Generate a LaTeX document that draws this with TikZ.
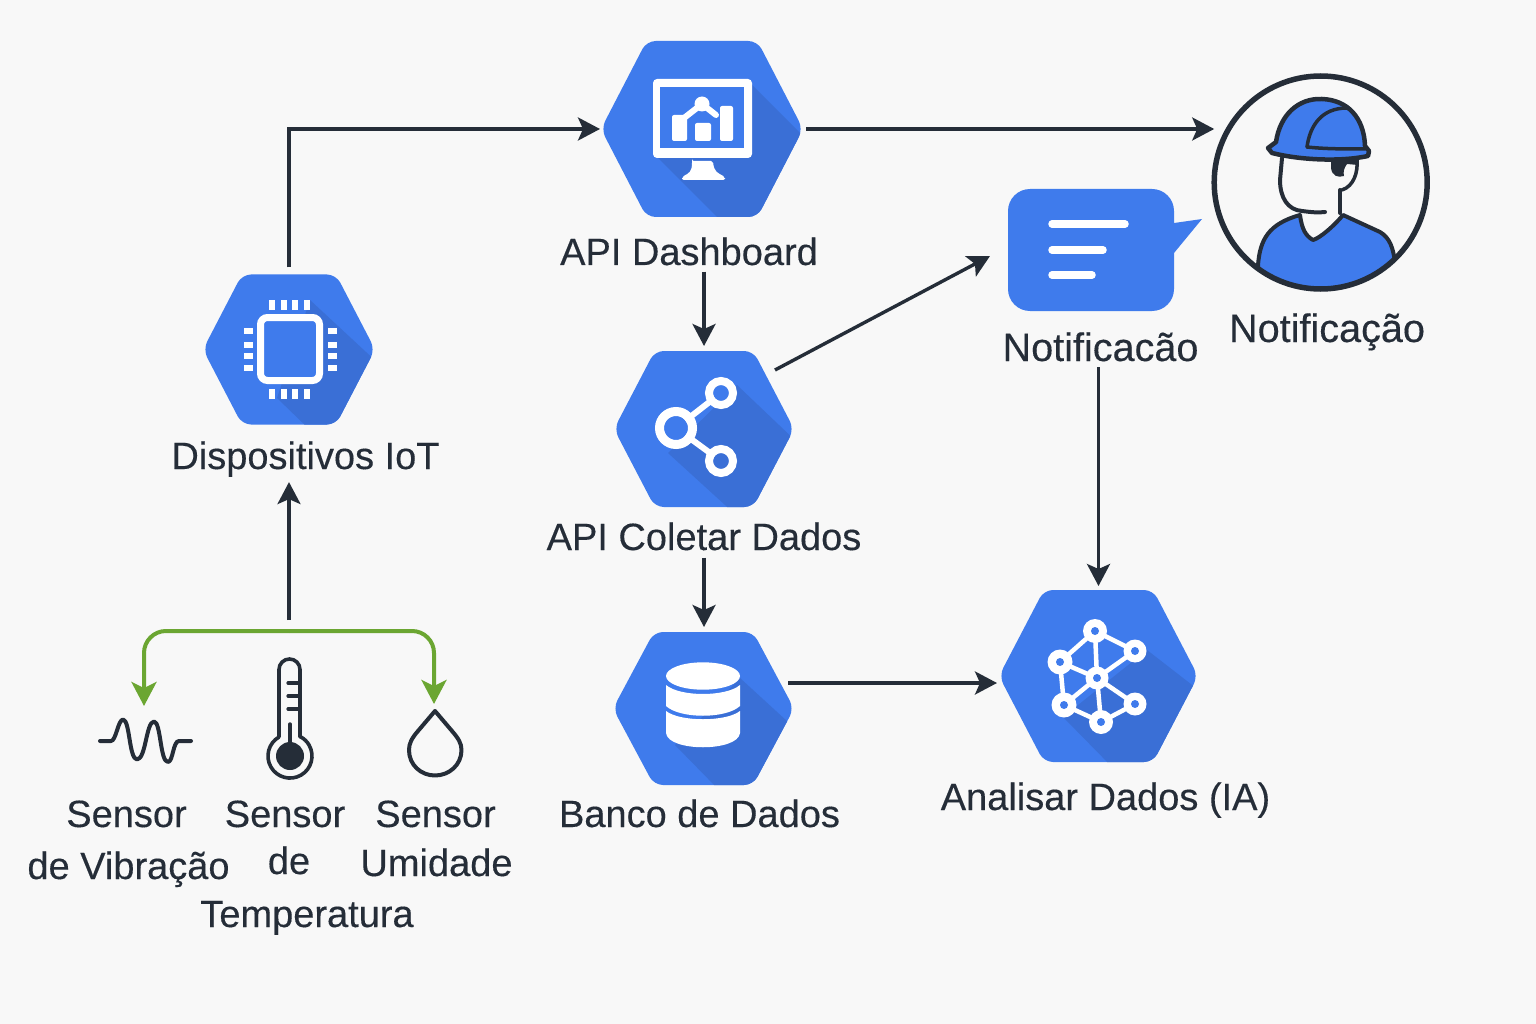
\documentclass[tikz,border=0pt]{standalone}
\usepackage{fontspec}
\setmainfont{Liberation Sans}[FakeBold=0.3]
\usetikzlibrary{arrows.meta,calc}
\definecolor{bgc}{HTML}{F8F8F8}
\definecolor{hexblue}{HTML}{3F7BEC}
\definecolor{hexshade}{HTML}{3A6FD6}
\definecolor{ink}{HTML}{252D38}
\definecolor{leaf}{HTML}{6BA632}
\tikzset{
  x=1pt,y=-1pt,
  lbl/.style={font=\fontsize{38}{38}\selectfont,text=ink,inner sep=0pt,anchor=base},
  lblbig/.style={font=\fontsize{39.6}{40}\selectfont,text=ink,inner sep=0pt,anchor=base},
  flow/.style={draw=ink,line width=3.4pt,-{Stealth[length=22pt,width=23pt,inset=5pt]}},
  greenflow/.style={draw=leaf,line width=4pt,rounded corners=22pt,-{Stealth[length=24pt,width=25pt,inset=6pt]}},
  whiteln/.style={draw=white,line cap=round,line join=round},
  inkln/.style={draw=ink,line cap=round,line join=round},
}
% name, cx, cy, half width, half height, shadow polygon
\newcommand{\hexa}[6]{%
  \begin{scope}
    \clip[rounded corners=9pt] (#2-#4-2,#3) -- (#2-0.56*#4,#3-#5) -- (#2+0.56*#4,#3-#5) -- (#2+#4+2,#3) -- (#2+0.56*#4,#3+#5) -- (#2-0.56*#4,#3+#5) -- cycle;
    \fill[hexblue] (#2-#4-5,#3-#5-5) rectangle (#2+#4+5,#3+#5+5);
    \fill[hexshade] #6;
  \end{scope}
  \node[minimum width=2*#4,minimum height=2*#5,inner sep=0pt,outer sep=0pt] (#1) at (#2,#3) {};
}
\begin{document}
\begin{tikzpicture}
\useasboundingbox (0,0) rectangle (1536,1024);
\fill[bgc] (0,0) rectangle (1536,1024);

% ---------- hexagons
\hexa{dash}{702}{129}{99}{88}{(752,85) -- (815,148) -- (815,230) -- (730,230) -- (655,155) -- cycle}
\hexa{iot}{289}{349.5}{84}{75}{(310,300) -- (380,365) -- (380,430) -- (310,430) -- (277,398) -- cycle}
\hexa{coll}{704}{429}{88}{78}{(737,385) -- (800,445) -- (800,515) -- (736,515) -- (668,453) -- cycle}
\hexa{db}{703.5}{708.5}{88.5}{76.5}{(740,678) -- (800,733) -- (800,790) -- (719,790) -- (675,745) -- cycle}
\hexa{ai}{1098.5}{676}{97.5}{86}{(1147,650) -- (1205,695) -- (1205,770) -- (1115,770) -- (1063,717) -- cycle}

% ---------- dashboard icon
\fill[white,rounded corners=4pt] (653,79) rectangle (752,158);
\fill[hexblue] (660,87) rectangle (744,148);
\fill[white,rounded corners=2pt] (672,115) rectangle (687,141);
\fill[white,rounded corners=2pt] (695,123) rectangle (711,141);
\fill[white,rounded corners=2pt] (720,106) rectangle (733,141);
\draw[whiteln,line width=6pt] (684,118) -- (702,104) -- (716,115);
\fill[white] (702,104) circle (7.5);
\fill[white,rounded corners=2pt] (692,161) -- (713,161) .. controls (714,172) and (718,173) .. (725,177) -- (725,180) -- (682,180) -- (682,177) .. controls (689,173) and (692,172) .. (692,161) -- cycle;

% ---------- chip icon
\draw[white,line width=7pt,rounded corners=7pt,fill=hexblue] (260.5,317.5) rectangle (319.5,380.5);
\foreach \a in {269,281,292,304}{
  \fill[white] (\a,300) rectangle (\a+6,310);
  \fill[white] (\a,389) rectangle (\a+6,399);
}
\foreach \a in {328,342,353,365}{
  \fill[white] (244,\a) rectangle (253,\a+6);
  \fill[white] (328,\a) rectangle (337,\a+6);
}

% ---------- share icon
\draw[whiteln,line width=6pt] (676,428) -- (721,393) (676,428) -- (721,461);
\fill[hexblue] (676,428) circle (12);
\fill[hexblue] (721,393) circle (8);
\fill[hexshade] (721,461) circle (8);
\draw[white,line width=9pt] (676,428) circle (16.5);
\draw[white,line width=8pt] (721,393) circle (12);
\draw[white,line width=8pt] (721,461) circle (12);

% ---------- database icon
\fill[white] (666,711) .. controls (680,722) and (726,722) .. (740,711) -- (740,733) .. controls (738,752) and (668,752) .. (666,733) -- cycle;
\fill[white] (666,685) .. controls (680,697) and (726,697) .. (740,685) -- (740,706) .. controls (726,719) and (680,719) .. (666,706) -- cycle;
\fill[white] (703,676) ellipse [x radius=37,y radius=13.7];

% ---------- AI icon
\coordinate (n1) at (1095,631);
\coordinate (n2) at (1135,651);
\coordinate (n3) at (1060,662);
\coordinate (n4) at (1097,678);
\coordinate (n5) at (1064,705);
\coordinate (n6) at (1135,704);
\coordinate (n7) at (1101,722);
\draw[white,line width=4.5pt] (n1)--(n2) (n1)--(n3) (n1)--(n4) (n3)--(n4) (n2)--(n4) (n3)--(n5) (n4)--(n5) (n4)--(n6) (n4)--(n7) (n5)--(n7) (n6)--(n7);
\foreach \p/\r in {n1/12,n2/11.5,n3/12.5,n4/11.5,n5/12.5,n6/11.5,n7/12}{
  \fill[white] (\p) circle (\r);
  \fill[hexblue] (\p) circle (4);
}

% ---------- bubble
\fill[hexblue,rounded corners=22pt] (1008,189) rectangle (1174,311);
\fill[hexblue] (1172,223) -- (1174,223) -- (1202,219) -- (1174,253) -- (1172,253) -- cycle;
\draw[whiteln,line width=7.5pt] (1052,224) -- (1125,224) (1052,250) -- (1103,250) (1052,275) -- (1092,275);
\node[minimum width=166pt,minimum height=122pt,inner sep=0pt,outer sep=0pt] (bubble) at (1091,250) {};

% ---------- worker
\begin{scope}
  \clip (1320.7,182.5) circle (106);
  \draw[inkln,line width=4pt,fill=hexblue] (1258,300) -- (1258,265) .. controls (1260,240) and (1268,224) .. (1300,215)
     .. controls (1302,230) and (1306,236) .. (1313,240) .. controls (1320,238) and (1334,226) .. (1343,215)
     -- (1380,232) .. controls (1390,238) and (1393,248) .. (1395,262) -- (1395,300) -- cycle;
\end{scope}
\draw[inkln,line width=4pt] (1282,158) -- (1280,180) .. controls (1280,198) and (1288,210) .. (1302,211) .. controls (1310,212) and (1318,213) .. (1325,212);
\draw[inkln,line width=4pt] (1340,190) -- (1340,213);
\draw[inkln,line width=3.5pt] (1357,160) .. controls (1358,172) and (1354,186) .. (1342,190);
\fill[ink] (1331,160) -- (1358,160) -- (1358,165) -- (1347,164) .. controls (1344,168) and (1343,172) .. (1344,176) .. controls (1338,178) and (1332,176) .. (1331,168) -- cycle;
\draw[inkln,line width=4.5pt,fill=hexblue] (1276,142) .. controls (1280,115) and (1298,98) .. (1322,99) .. controls (1348,100) and (1364,118) .. (1365,146) -- (1369,151) -- (1368,156) .. controls (1340,162) and (1300,160) .. (1272,153) -- (1268,148) -- cycle;
\draw[inkln,line width=3.5pt] (1307,147) .. controls (1310,125) and (1322,108) .. (1347,108);
\draw[inkln,line width=3.5pt] (1307,147) .. controls (1325,149) and (1345,149) .. (1365,149);
\node[circle,draw=ink,line width=5.5pt,minimum size=213pt,inner sep=0pt,outer sep=0pt] (worker) at (1320.7,182.5) {};

% ---------- sensors
\draw[inkln,line width=4pt] (100,741) -- (111,741) .. controls (116,741) and (118,720) .. (123,719.5)
  .. controls (130,720) and (129,759) .. (137,759.5) .. controls (146,759) and (146,722) .. (154,721.5)
  .. controls (161,722) and (160,762) .. (168,762) .. controls (173,762) and (173,741) .. (179,741) -- (191,741);
\node[minimum width=92pt,minimum height=44pt,inner sep=0pt,outer sep=0pt] (wave) at (145.5,741) {};

\draw[inkln,line width=3.6pt] (300,737) -- (300,669.5) arc[start angle=360,end angle=180,radius=10.5] -- (279,737);
\draw[ink,line width=3.6pt] (279,737) arc[start angle=240,end angle=-60,radius=22];
\fill[ink] (290,756) circle (14);
\draw[inkln,line width=3.4pt] (290,724) -- (290,750);
\draw[inkln,line width=3.2pt] (288,683) -- (298,683) (288,696) -- (298,696) (288,709) -- (298,709);
\node[minimum width=48pt,minimum height=120pt,inner sep=0pt,outer sep=0pt] (thermo) at (290,719) {};

\draw[inkln,line width=4pt] (435,711) -- (418,731) .. controls (412,738) and (409,743) .. (409,750)
  .. controls (409,765) and (421,775.5) .. (435,775.5) .. controls (449,775.5) and (461.5,765) .. (461.5,750)
  .. controls (461.5,743) and (458,738) .. (452,731) -- cycle;
\node[minimum width=54pt,minimum height=66pt,inner sep=0pt,outer sep=0pt] (drop) at (435,743) {};

% ---------- labels
\node[lbl] (Lapidash) at (689,265) {API Dashboard};
\node[lbl] (Ldisp) at (305.5,469) {Dispositivos IoT};
\node[lbl] (Lcoll) at (704,550) {API Coletar Dados};
\node[lbl] (Ldb) at (699.5,827) {Banco de Dados};
\node[lbl] (Lai) at (1105.5,810) {Analisar Dados (IA)};
\node[lblbig] (Lnot) at (1100.5,361) {Notificacão};
\node[lblbig] (Lwork) at (1327,342) {Notificação};
\node[lbl] (Ls1) at (126.5,827) {Sensor};
\node[lbl] (Ls1b) at (128.5,879) {de Vibração};
\node[lbl] (Ls2) at (285,827) {Sensor};
\node[lbl] (Ls2b) at (289,874) {de};
\node[lbl] (Ls2c) at (307,927) {Temperatura};
\node[lbl] (Ls3) at (435.5,827) {Sensor};
\node[lbl] (Ls3b) at (436.5,876) {Umidade};

% ---------- connectors
\coordinate (bus) at (289,631);
\draw[flow,shorten <=7pt] (iot.north) |- ($(dash.west)+(-3,0)$);
\draw[flow,shorten <=5pt] (dash.east) -- (worker.west |- dash.east);
\draw[flow,shorten <=6pt,shorten >=5pt] (Lapidash.south -| coll.north) -- (coll.north);
\draw[flow] (coll.north east) ++(-17,19) coordinate (collout) -- ($(bubble.west)+(-18,6)$);
\draw[flow,shorten <=7pt,shorten >=5pt] (Lcoll.south) -- (db.north -| Lcoll.south);
\draw[flow,shorten <=-4pt,shorten >=4pt] (db.east |- 0,683) -- (ai.west |- 0,683);
\draw[flow,shorten <=7pt,shorten >=4pt] (bubble.south -| ai.north) ++(0,49) coordinate (notout) -- (ai.north);
\draw[flow,shorten <=11pt,shorten >=5pt] (bus) -- (bus |- Ldisp.south);
\draw[greenflow,shorten >=13pt] (bus) -| (wave.north -| 144,0);
\draw[greenflow,shorten >=6pt] (bus) -| (drop.north -| 434,0);
\end{tikzpicture}
\end{document}
